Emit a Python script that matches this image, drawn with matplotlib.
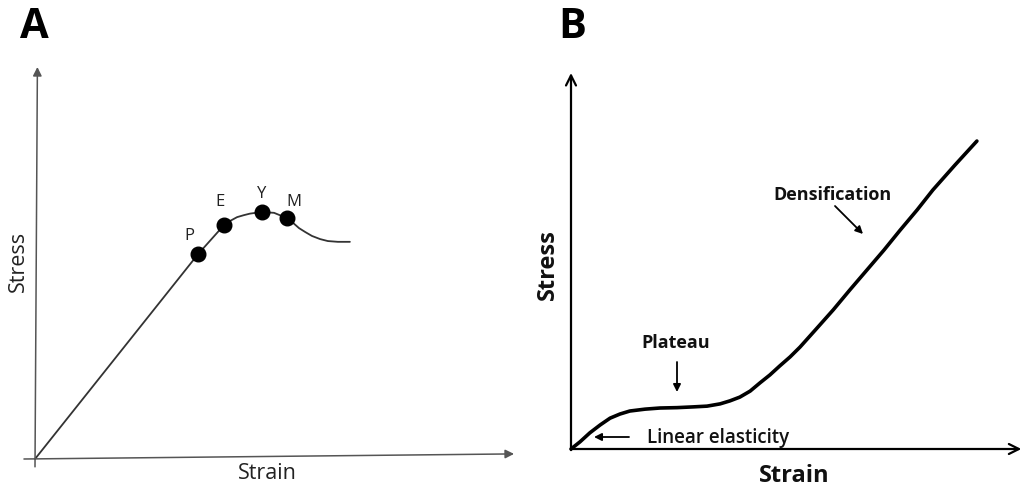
import matplotlib
matplotlib.use("Agg")
import matplotlib.pyplot as plt

plt.rcParams['font.family'] = ['Open Sans', 'DejaVu Sans']

# ---- Panel A data (normalized strain / stress) ----
a_strain = [0.0, 0.340, 0.394, 0.406, 0.421, 0.435, 0.448, 0.460, 0.473, 0.485, 0.498,
            0.510, 0.525, 0.538, 0.550, 0.563, 0.577, 0.594, 0.610, 0.631, 0.656]
a_stress = [0.0, 0.523, 0.597, 0.607, 0.617, 0.622, 0.626, 0.628, 0.629, 0.629, 0.628,
            0.622, 0.614, 0.602, 0.589, 0.579, 0.569, 0.561, 0.556, 0.554, 0.554]
a_point_labels = ['P', 'E', 'Y', 'M']
a_point_strain = [0.340, 0.394, 0.473, 0.525]
a_point_stress = [0.523, 0.597, 0.630, 0.614]

# ---- Panel B data (normalized strain / stress) ----
b_strain = [0.0, 0.020, 0.042, 0.065, 0.087, 0.109, 0.131, 0.165, 0.198, 0.236, 0.272,
            0.303, 0.332, 0.354, 0.376, 0.399, 0.421, 0.443, 0.465, 0.488, 0.510,
            0.546, 0.584, 0.621, 0.659, 0.697, 0.733, 0.771, 0.806, 0.855, 0.904]
b_stress = [0.0, 0.019, 0.043, 0.064, 0.082, 0.093, 0.101, 0.106, 0.109, 0.110, 0.112,
            0.114, 0.120, 0.128, 0.138, 0.154, 0.176, 0.197, 0.221, 0.245, 0.271,
            0.319, 0.370, 0.423, 0.476, 0.529, 0.582, 0.636, 0.689, 0.755, 0.819]
b_annotations = ['Densification', 'Plateau', 'Linear elasticity']

W, H = 1022, 488
fig = plt.figure(figsize=(W / 100, H / 100), dpi=100)

def px_axes(x0, x1, y_bottom, y_top):
    return fig.add_axes([x0 / W, (H - y_bottom) / H, (x1 - x0) / W, (y_bottom - y_top) / H])

# ================= Panel A =================
axA = px_axes(35, 515, 459, 67)
axA.set_xlim(0, 1)
axA.set_ylim(0, 1)
axA.axis('off')

axA.annotate('', xy=(0.998, 0.013), xytext=(-0.023, 0.0),
             arrowprops=dict(arrowstyle='-|>', color='#555555', lw=1.1,
                             mutation_scale=13, shrinkA=0, shrinkB=0),
             annotation_clip=False)
axA.annotate('', xy=(0.005, 1.0), xytext=(0.0, -0.02),
             arrowprops=dict(arrowstyle='-|>', color='#555555', lw=1.1,
                             mutation_scale=13, shrinkA=0, shrinkB=0),
             annotation_clip=False)

axA.plot(a_strain, a_stress, color='#333333', lw=1.3, clip_on=False,
         solid_capstyle='round', solid_joinstyle='round')
axA.plot(a_point_strain, a_point_stress, 'o', color='black', ms=10.5, clip_on=False)

lab_dx = [-0.018, -0.009, 0.0, 0.014]
lab_dy = [0.045, 0.058, 0.045, 0.041]
for lbl, x, y, dx, dy in zip(a_point_labels, a_point_strain, a_point_stress, lab_dx, lab_dy):
    axA.text(x + dx, y + dy, lbl, fontsize=12, ha='center', va='center', color='#222222')

axA.text(0.485, -0.036, 'Strain', fontsize=15.5, ha='center', va='center',
         transform=axA.transAxes, color='#222222')
axA.text(-0.0355, 0.503, 'Stress', fontsize=15.5, ha='center', va='center', rotation=90,
         transform=axA.transAxes, color='#222222')

fig.text(34 / W, 1 - 28 / H, 'A', fontsize=30, fontweight='bold', ha='center', va='center')

# ================= Panel B =================
axB = px_axes(571, 1020, 449, 73)
axB.set_xlim(0, 1)
axB.set_ylim(0, 1)
axB.axis('off')

axB.annotate('', xy=(1.003, 0.0), xytext=(0.0, 0.0),
             arrowprops=dict(arrowstyle='->', color='black', lw=1.6,
                             mutation_scale=18, shrinkA=0, shrinkB=0),
             annotation_clip=False)
axB.annotate('', xy=(0.0, 1.0), xytext=(0.0, -0.003),
             arrowprops=dict(arrowstyle='->', color='black', lw=1.6,
                             mutation_scale=18, shrinkA=0, shrinkB=0),
             annotation_clip=False)

axB.plot(b_strain, b_stress, color='black', lw=2.6, clip_on=False,
         solid_capstyle='round', solid_joinstyle='round')

# Densification
axB.text((832 - 571) / 449, (449 - 195) / 376, b_annotations[0], fontsize=13,
         fontweight='bold', ha='center', va='center', color='#111111')
axB.annotate('', xy=((863 - 571) / 449, (449 - 234) / 376),
             xytext=((835 - 571) / 449, (449 - 206) / 376),
             arrowprops=dict(arrowstyle='-|>', color='black', lw=1.3,
                             mutation_scale=11, shrinkA=0, shrinkB=0))
# Plateau
axB.text((676 - 571) / 449, (449 - 343) / 376, b_annotations[1], fontsize=13,
         fontweight='bold', ha='center', va='center', color='#111111')
axB.annotate('', xy=((677 - 571) / 449, (449 - 392) / 376),
             xytext=((677 - 571) / 449, (449 - 362) / 376),
             arrowprops=dict(arrowstyle='-|>', color='black', lw=1.3,
                             mutation_scale=11, shrinkA=0, shrinkB=0))
# Linear elasticity
axB.text((647 - 571) / 449, (449 - 438) / 376, b_annotations[2], fontsize=13.5,
         fontweight='semibold', ha='left', va='center', color='#111111')
axB.annotate('', xy=((594 - 571) / 449, (449 - 437) / 376),
             xytext=((629 - 571) / 449, (449 - 437) / 376),
             arrowprops=dict(arrowstyle='-|>', color='black', lw=1.3,
                             mutation_scale=11, shrinkA=0, shrinkB=0))

axB.text((794 - 571) / 449, (449 - 476) / 376, 'Strain', fontsize=17, fontweight='bold',
         ha='center', va='center', color='#111111')
axB.text((548 - 571) / 449, (449 - 265) / 376, 'Stress', fontsize=17, fontweight='bold',
         ha='center', va='center', rotation=90, color='#111111')

fig.text(572 / W, 1 - 27 / H, 'B', fontsize=30, fontweight='bold', ha='center', va='center')

fig.savefig('out.png', dpi=100)
